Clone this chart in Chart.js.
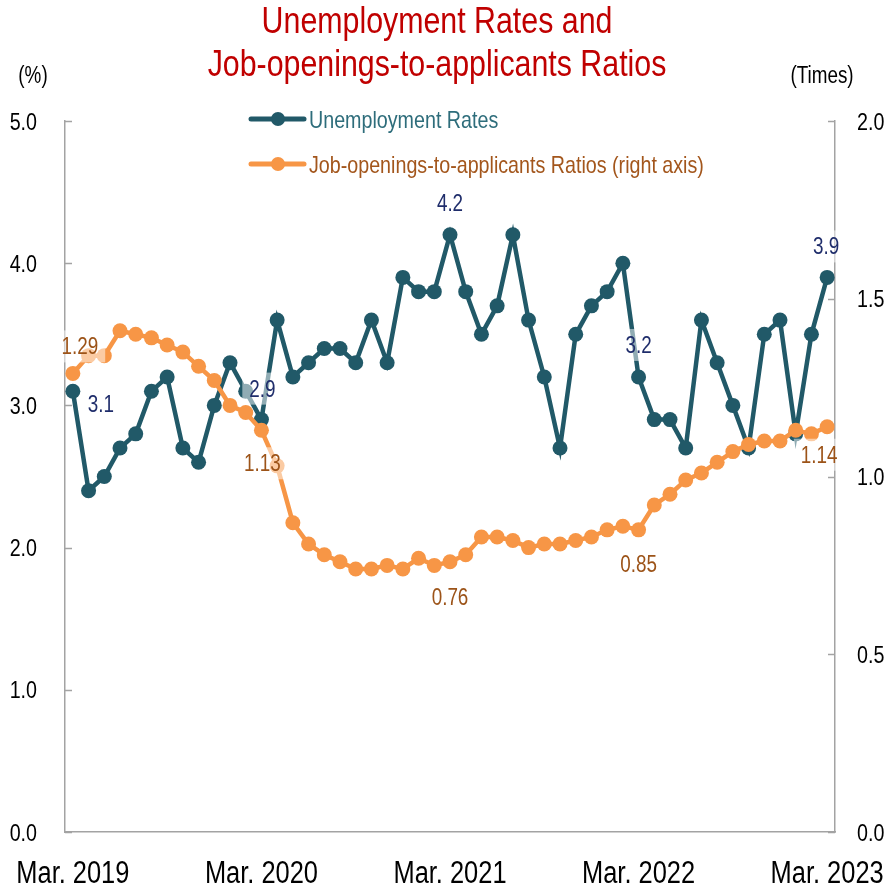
<!DOCTYPE html>
<html>
<head>
<meta charset="utf-8">
<script src="https://cdn.jsdelivr.net/npm/chart.js@4.4.1/dist/chart.umd.min.js"></script>
<style>
html,body{margin:0;padding:0;background:#fff;}
canvas{display:block;}
</style>
</head>
<body>
<canvas id="c" width="888" height="887"></canvas>
<script>
// ---- data ----
const months = [
 "Mar. 2019","Apr. 2019","May 2019","Jun. 2019","Jul. 2019","Aug. 2019","Sep. 2019","Oct. 2019","Nov. 2019","Dec. 2019","Jan. 2020","Feb. 2020",
 "Mar. 2020","Apr. 2020","May 2020","Jun. 2020","Jul. 2020","Aug. 2020","Sep. 2020","Oct. 2020","Nov. 2020","Dec. 2020","Jan. 2021","Feb. 2021",
 "Mar. 2021","Apr. 2021","May 2021","Jun. 2021","Jul. 2021","Aug. 2021","Sep. 2021","Oct. 2021","Nov. 2021","Dec. 2021","Jan. 2022","Feb. 2022",
 "Mar. 2022","Apr. 2022","May 2022","Jun. 2022","Jul. 2022","Aug. 2022","Sep. 2022","Oct. 2022","Nov. 2022","Dec. 2022","Jan. 2023","Feb. 2023",
 "Mar. 2023"
];
const unemploymentRates = [
 3.1,2.4,2.5,2.7,2.8,3.1,3.2,2.7,2.6,3.0,3.3,3.1,
 2.9,3.6,3.2,3.3,3.4,3.4,3.3,3.6,3.3,3.9,3.8,3.8,
 4.2,3.8,3.5,3.7,4.2,3.6,3.2,2.7,3.5,3.7,3.8,4.0,
 3.2,2.9,2.9,2.7,3.6,3.3,3.0,2.7,3.5,3.6,2.8,3.5,
 3.9
];
const jobRatios = [
 1.29,1.34,1.34,1.41,1.40,1.39,1.37,1.35,1.31,1.27,1.20,1.18,
 1.13,1.03,0.87,0.81,0.78,0.76,0.74,0.74,0.75,0.74,0.77,0.75,
 0.76,0.78,0.83,0.83,0.82,0.80,0.81,0.81,0.82,0.83,0.85,0.86,
 0.85,0.92,0.95,0.99,1.01,1.04,1.07,1.09,1.10,1.10,1.13,1.12,
 1.14
];
const seriesNames = ["Unemployment Rates","Job-openings-to-applicants Ratios (right axis)"];
const titleLines = ["Unemployment Rates and","Job-openings-to-applicants Ratios"];
const unitLabels = ["(%)","(Times)"];
const labeledIndices = [0,12,24,36,48];

// ---- styles ----
const FONT = "'Liberation Sans','Arial',sans-serif";
const SX = 0.82; // narrow face emulation
const BLUE = '#215968';
const ORANGE = '#F79646';
const BLUE_LBL = '#1F2D6B';
const ORANGE_LBL = '#9C5318';
const AXIS = '#a3a3a3';
const LBL_SIZE = 23;
const labelOffsets = {
  blue:   [[28,13],[1,-31],[0,-32],[0,-32],[-1,-31]],
  orange: [[7,-27],[1,33],[0,35],[0,34],[-8,28]]
};

function narrowText(ctx, txt, x, y, size, color, align) {
  ctx.save();
  ctx.font = size + 'px ' + FONT;
  ctx.fillStyle = color;
  ctx.textAlign = align || 'left';
  ctx.textBaseline = 'alphabetic';
  ctx.translate(x, y);
  ctx.scale(SX, 1);
  ctx.fillText(txt, 0, 0);
  ctx.restore();
}
function narrowWidth(ctx, txt, size) {
  ctx.save(); ctx.font = size + 'px ' + FONT;
  const w = ctx.measureText(txt).width * SX; ctx.restore(); return w;
}

const extras = {
  id: 'extras',
  afterDatasetsDraw(chart) {
    const ctx = chart.ctx;
    const metaU = chart.getDatasetMeta(1);
    const metaJ = chart.getDatasetMeta(0);
    const drawLbl = (meta, data, digits, offs, color) => {
      labeledIndices.forEach((idx, k) => {
        const p = meta.data[idx];
        const txt = data[idx].toFixed(digits);
        const x = p.x + offs[k][0], y = p.y + offs[k][1];
        const w = narrowWidth(ctx, txt, LBL_SIZE) + 14;
        const h = 32;
        ctx.fillStyle = 'rgba(255,255,255,0.5)';
        ctx.fillRect(x - w/2, y - h/2, w, h);
        narrowText(ctx, txt, x, y + 8, LBL_SIZE, color, 'center');
      });
    };
    drawLbl(metaU, unemploymentRates, 1, labelOffsets.blue, BLUE_LBL);
    drawLbl(metaJ, jobRatios, 2, labelOffsets.orange, ORANGE_LBL);
  },
  afterDraw(chart) {
    const ctx = chart.ctx;
    const {left, right, top, bottom} = chart.chartArea;
    ctx.save();
    // inner ticks + tick labels from the scales
    ctx.strokeStyle = AXIS; ctx.lineWidth = 1.5;
    const yL = chart.scales.y, yR = chart.scales.y1, xS = chart.scales.x;
    yL.ticks.forEach((t, i) => {
      const y = yL.getPixelForTick(i);
      ctx.beginPath(); ctx.moveTo(left, Math.round(y) + 0.5); ctx.lineTo(left + 7, Math.round(y) + 0.5); ctx.stroke();
      narrowText(ctx, t.value.toFixed(1), left - 28, y + 8.5, 24, '#000', 'right');
    });
    yR.ticks.forEach((t, i) => {
      const y = yR.getPixelForTick(i);
      ctx.beginPath(); ctx.moveTo(right, Math.round(y) + 0.5); ctx.lineTo(right - 7, Math.round(y) + 0.5); ctx.stroke();
      narrowText(ctx, t.value.toFixed(1), right + 22, y + 8.5, 24, '#000', 'left');
    });
    xS.ticks.forEach((t, i) => {
      const lbl = months[t.value];
      if (lbl && lbl.startsWith('Mar.')) {
        narrowText(ctx, lbl, xS.getPixelForTick(i), bottom + 51, 31, '#000', 'center');
      }
    });
    // title
    narrowText(ctx, titleLines[0], 437, 33, 37, '#C00000', 'center');
    narrowText(ctx, titleLines[1], 437, 76, 37, '#C00000', 'center');
    // units
    narrowText(ctx, unitLabels[0], 33, 83, 23, '#000', 'center');
    narrowText(ctx, unitLabels[1], 822, 83, 23, '#000', 'center');
    // legend
    const leg = [[BLUE, '#2E6D7B', 119, seriesNames[0]], [ORANGE, '#A3561C', 164, seriesNames[1]]];
    leg.forEach(([c, tc, y, t]) => {
      ctx.strokeStyle = c; ctx.lineWidth = 5; ctx.lineCap = 'round';
      ctx.beginPath(); ctx.moveTo(251, y); ctx.lineTo(304, y); ctx.stroke();
      ctx.fillStyle = c; ctx.beginPath(); ctx.arc(278, y, 7, 0, Math.PI*2); ctx.fill();
      narrowText(ctx, t, 309, y + 8.5, 24, tc, 'left');
    });
    ctx.restore();
  }
};

new Chart(document.getElementById('c'), {
  type: 'line',
  data: {
    labels: months,
    datasets: [
      { label: seriesNames[1], data: jobRatios, yAxisID: 'y1', order: 0,
        borderColor: ORANGE, backgroundColor: ORANGE, borderWidth: 4.5,
        pointRadius: 7.5, pointHoverRadius: 7.5, pointBorderWidth: 0, tension: 0 },
      { label: seriesNames[0], data: unemploymentRates, yAxisID: 'y', order: 1,
        borderColor: BLUE, backgroundColor: BLUE, borderWidth: 4.5,
        pointRadius: 7.5, pointHoverRadius: 7.5, pointBorderWidth: 0, tension: 0 }
    ]
  },
  options: {
    responsive: false,
    animation: false,
    devicePixelRatio: 1,
    layout: { padding: { top: 121, left: 0, right: 0, bottom: 0 } },
    plugins: { legend: { display: false }, title: { display: false }, tooltip: { enabled: false } },
    scales: {
      x: {
        offset: true,
        grid: { display: true, drawOnChartArea: false, drawTicks: false, offset: false },
        border: { display: true, color: AXIS, width: 1.5 },
        ticks: { display: false, autoSkip: false },
        afterFit(s) { s.height = 55; }
      },
      y: {
        position: 'left', min: 0, max: 5,
        grid: { display: true, drawOnChartArea: false, drawTicks: false },
        border: { display: true, color: AXIS, width: 1.5 },
        ticks: { display: false, stepSize: 1 },
        afterFit(s) { s.width = 65; }
      },
      y1: {
        position: 'right', min: 0, max: 2,
        grid: { display: true, drawOnChartArea: false, drawTicks: false },
        border: { display: true, color: AXIS, width: 1.5 },
        ticks: { display: false, stepSize: 0.5 },
        afterFit(s) { s.width = 53; }
      }
    }
  },
  plugins: [extras]
});
</script>
</body>
</html>
